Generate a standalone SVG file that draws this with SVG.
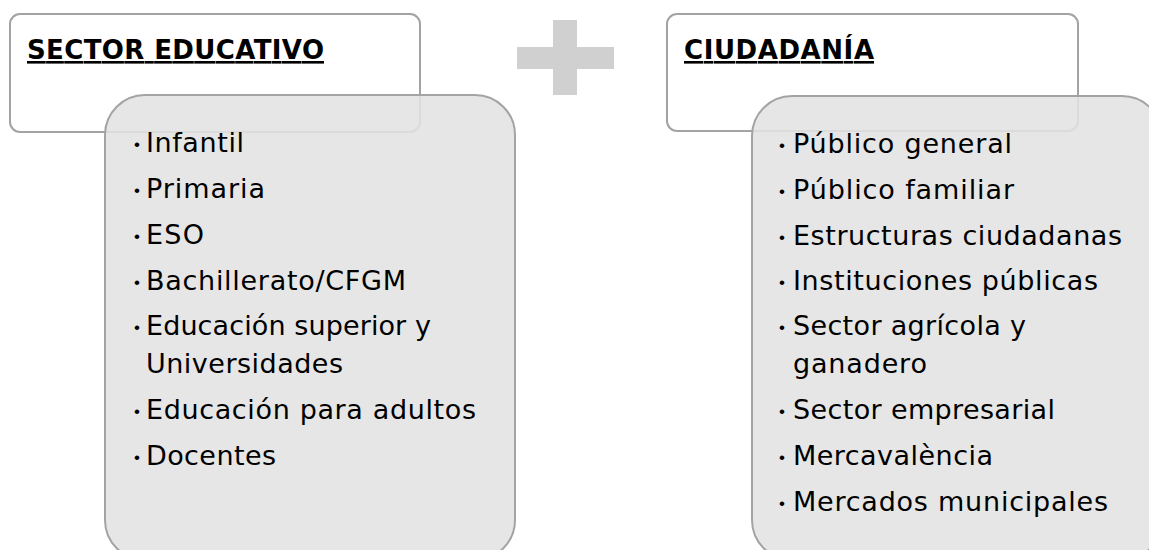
<svg xmlns="http://www.w3.org/2000/svg" width="1149" height="550" viewBox="0 0 1149 550">
<style>
.hdr{fill:#ffffff;stroke:#a3a3a3;stroke-width:2}
.box{fill:#e2e2e2;fill-opacity:0.88;stroke:#a3a3a3;stroke-width:2}
.ttl{font-family:"DejaVu Sans","Liberation Sans",sans-serif;font-weight:bold;font-size:26px;fill:#000;text-decoration:underline}
.it{font-family:"DejaVu Sans","Liberation Sans",sans-serif;font-size:27px;fill:#000}
.b{font-family:"Liberation Sans",sans-serif;font-size:17px;fill:#000;text-anchor:middle}
.plus{fill:#d0d0d0}
</style>
<rect width="1149" height="550" fill="#ffffff"/>
<g id="connectors"/>
<g id="sector-educativo">
<rect class="hdr" x="10" y="14" width="410" height="118" rx="10"/>
<text class="ttl" x="27" y="59" textLength="297">SECTOR EDUCATIVO</text>
</g>
<g id="sector-educativo-lista">
<rect class="box" x="105" y="95" width="410" height="465" rx="40"/>
<text class="b" x="137" y="150">•</text>
<text class="b" x="137" y="196">•</text>
<text class="b" x="137" y="242">•</text>
<text class="b" x="137" y="288">•</text>
<text class="b" x="137" y="333">•</text>
<text class="b" x="137" y="417">•</text>
<text class="b" x="137" y="463">•</text>
<text class="it" x="146" y="152" textLength="98">Infantil</text>
<text class="it" x="146" y="198" textLength="119">Primaria</text>
<text class="it" x="146" y="244" textLength="58">ESO</text>
<text class="it" x="146" y="290" textLength="260">Bachillerato/CFGM</text>
<text class="it" x="146" y="335" textLength="285">Educación superior y</text>
<text class="it" x="146" y="373" textLength="197">Universidades</text>
<text class="it" x="146" y="419" textLength="330">Educación para adultos</text>
<text class="it" x="146" y="465" textLength="130">Docentes</text>
</g>
<g id="plus">
<rect class="plus" x="553" y="20" width="24" height="75"/>
<rect class="plus" x="517" y="47" width="97" height="22"/>
</g>
<g id="ciudadania">
<rect class="hdr" x="667" y="14" width="411" height="117" rx="10"/>
<text class="ttl" x="684" y="59" textLength="190">CIUDADANÍA</text>
</g>
<g id="ciudadania-lista">
<rect class="box" x="752" y="96" width="410" height="464" rx="40"/>
<text class="b" x="782" y="151">•</text>
<text class="b" x="782" y="197">•</text>
<text class="b" x="782" y="243">•</text>
<text class="b" x="782" y="288">•</text>
<text class="b" x="782" y="333">•</text>
<text class="b" x="782" y="417">•</text>
<text class="b" x="782" y="463">•</text>
<text class="b" x="782" y="509">•</text>
<text class="it" x="793" y="153" textLength="219">Público general</text>
<text class="it" x="793" y="199" textLength="221">Público familiar</text>
<text class="it" x="793" y="245" textLength="329">Estructuras ciudadanas</text>
<text class="it" x="793" y="290" textLength="305">Instituciones públicas</text>
<text class="it" x="793" y="335" textLength="233">Sector agrícola y</text>
<text class="it" x="793" y="373" textLength="134">ganadero</text>
<text class="it" x="793" y="419" textLength="262">Sector empresarial</text>
<text class="it" x="793" y="465" textLength="200">Mercavalència</text>
<text class="it" x="793" y="511" textLength="315">Mercados municipales</text>
</g>
</svg>
